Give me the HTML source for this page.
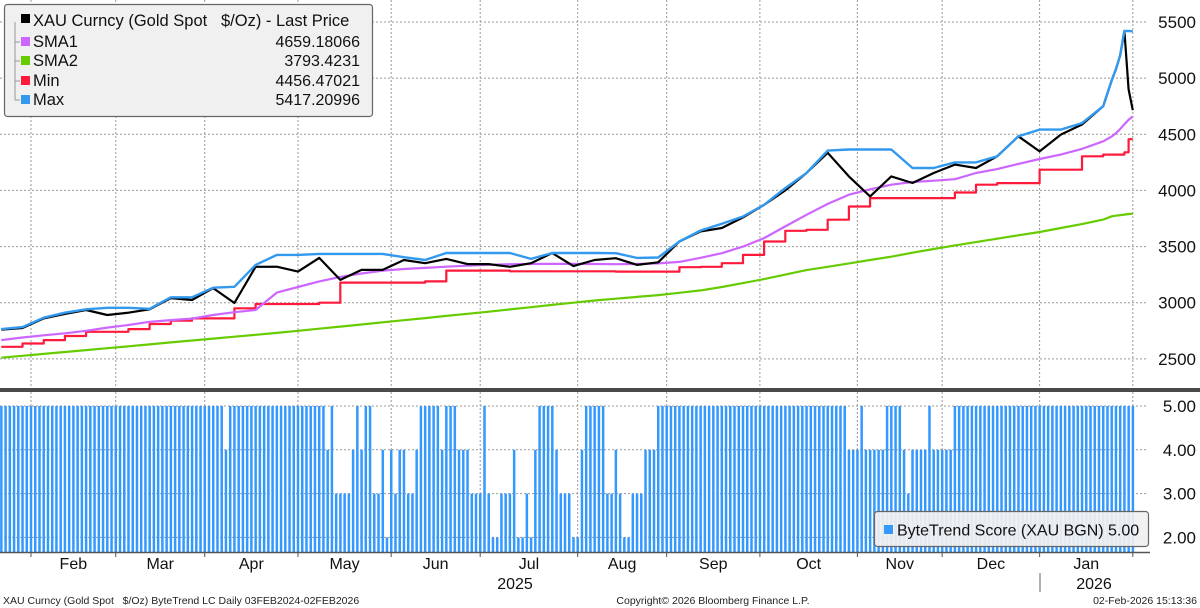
<!DOCTYPE html>
<html><head><meta charset="utf-8">
<style>
body{margin:0;background:#fff;font-family:"Liberation Sans",Tahoma,sans-serif;}
svg{display:block}
text{font-family:"Liberation Sans",sans-serif;}
</style></head>
<body>
<svg id="chart" width="1200" height="608" viewBox="0 0 1200 608">
  <g id="grid"></g>
  <g id="bars"></g>
  <g id="lines"></g>
  <rect x="0" y="388" width="1200" height="4" fill="#4a4a4a"/>
  <line x1="0" y1="552.5" x2="1150" y2="552.5" stroke="#555" stroke-width="1.5"/>
  <g id="axes"></g>
  <g>
    <rect x="4.5" y="4.5" width="368" height="112" rx="3" fill="#f0f0f0" stroke="#666" stroke-width="1.2"/>
    <text x="33" y="26" font-size="16.5" fill="#111">XAU Curncy (Gold Spot&#160;&#160; $/Oz) - Last Price</text>
    <rect x="21" y="14" width="9" height="9" fill="#000"/>
    <rect x="21" y="37" width="9" height="9" fill="#cc66ff"/>
    <rect x="21" y="56" width="9" height="9" fill="#66cc00"/>
    <rect x="21" y="76" width="9" height="9" fill="#ff1a3c"/>
    <rect x="21" y="95" width="9" height="9" fill="#3399ee"/>
    <path d="M15 22 V100 M15 42 H20 M15 61 H20 M15 81 H20 M15 100 H20" stroke="#999" fill="none"/>
    <text x="33" y="47" font-size="16.5" fill="#111">SMA1</text>
    <text x="33" y="66" font-size="16.5" fill="#111">SMA2</text>
    <text x="33" y="86" font-size="16.5" fill="#111">Min</text>
    <text x="33" y="105" font-size="16.5" fill="#111">Max</text>
    <text x="360" y="47" font-size="16" fill="#111" text-anchor="end">4659.18066</text>
    <text x="360" y="66" font-size="16" fill="#111" text-anchor="end">3793.4231</text>
    <text x="360" y="86" font-size="16" fill="#111" text-anchor="end">4456.47021</text>
    <text x="360" y="105" font-size="16" fill="#111" text-anchor="end">5417.20996</text>
  </g>
  <g>
    <rect x="874.5" y="511.5" width="274" height="35" rx="3" fill="#f0f0f0" fill-opacity="0.92" stroke="#666" stroke-width="1.2"/>
    <rect x="884" y="525" width="9" height="9" fill="#3399ff"/>
    <text x="897" y="535.5" font-size="16" fill="#111">ByteTrend Score (XAU BGN) 5.00</text>
  </g>
  <g>
    <text x="3" y="604" font-size="10.5" fill="#222">XAU Curncy (Gold Spot&#160;&#160; $/Oz) ByteTrend LC Daily 03FEB2024-02FEB2026</text>
    <text x="713" y="604" font-size="10.5" fill="#222" text-anchor="middle">Copyright© 2026 Bloomberg Finance L.P.</text>
    <text x="1197" y="604" font-size="10.5" fill="#222" text-anchor="end">02-Feb-2026 15:13:36</text>
  </g>
</svg>
<script>
// ---- data ----
const dates = ["2025-01-23","2025-01-30","2025-02-06","2025-02-13","2025-02-20","2025-02-27","2025-03-06","2025-03-13","2025-03-20","2025-03-27",
"2025-04-03","2025-04-10","2025-04-17","2025-04-24","2025-05-01","2025-05-08","2025-05-15","2025-05-22","2025-05-29","2025-06-05",
"2025-06-12","2025-06-19","2025-06-26","2025-07-03","2025-07-10","2025-07-17","2025-07-24","2025-07-31","2025-08-07","2025-08-14",
"2025-08-21","2025-08-28","2025-09-04","2025-09-11","2025-09-18","2025-09-25","2025-10-02","2025-10-09","2025-10-16","2025-10-23",
"2025-10-30","2025-11-06","2025-11-13","2025-11-20","2025-11-27","2025-12-04","2025-12-11","2025-12-18","2025-12-25","2026-01-01",
"2026-01-08","2026-01-15","2026-01-22","2026-01-26","2026-01-27","2026-01-28","2026-01-29","2026-01-30","2026-02-02"];
const lastPrice = [2760,2775,2860,2900,2935,2890,2911,2941,3040,3024,3130,2997,3320,3321,3277,3399,3203,3292,3292,3380,
3352,3390,3344,3344,3320,3352,3443,3326,3380,3396,3337,3360,3545,3635,3665,3760,3872,4000,4155,4335,
4125,3947,4125,4066,4155,4230,4200,4304,4482,4348,4497,4587,4750,4980,5080,5200,5420,4900,4715];
const maxSeries = [2765,2783,2866,2911,2941,2955,2955,2946,3048,3048,3134,3142,3337,3426,3426,3435,3435,3435,3435,3405,
3380,3443,3443,3443,3443,3390,3443,3443,3443,3441,3399,3403,3545,3643,3703,3768,3872,4021,4155,4355,
4365,4365,4365,4200,4200,4250,4250,4304,4482,4542,4542,4600,4750,4980,5080,5200,5420,5420,5417];
const sma1 = [2667,2690,2710,2727,2750,2778,2801,2830,2845,2858,2890,2915,2935,3090,3140,3190,3230,3260,3285,3300,
3310,3321,3330,3338,3343,3345,3346,3346,3345,3343,3345,3350,3363,3400,3441,3500,3575,3680,3783,3880,
3962,4010,4051,4075,4087,4100,4155,4190,4236,4280,4319,4370,4438,4480,4510,4545,4590,4630,4659];
const sma2 = [2510,2527,2544,2561,2578,2595,2612,2629,2646,2663,2680,2697,2714,2731,2750,2768,2787,2806,2825,2844,
2863,2882,2901,2920,2940,2960,2980,3000,3020,3036,3052,3068,3088,3110,3140,3175,3210,3250,3290,3320,
3350,3380,3410,3445,3478,3510,3540,3570,3600,3630,3665,3700,3740,3770,3775,3780,3785,3790,3793];
const minSeries = [2607,2637,2667,2703,2741,2741,2765,2810,2840,2860,2860,2950,2988,2988,2988,3000,3179,3179,3179,3179,
3190,3286,3286,3286,3280,3280,3280,3280,3280,3277,3277,3277,3316,3320,3352,3426,3545,3640,3649,3739,
3857,3932,3932,3932,3932,3982,4051,4065,4065,4185,4185,4304,4319,4319,4319,4319,4340,4456,4456];
const scores = [5,5,5,5,5,5,5,5,5,5,5,5,5,5,5,5,5,5,5,5,5,5,5,5,5,5,5,5,5,5,5,5,5,5,5,5,5,5,5,5,5,5,5,5,5,5,5,5,5,5,5,5,5,
4,
5,5,5,5,5,5,5,5,5,5,5,5,5,5,5,5,5,5,5,5,5,5,5,
4,5,3,3,3,3,4,5,4,5,5,3,3,4,2,4,3,4,4,3,3,4,
5,5,5,5,5,4,5,5,5,4,4,4,3,3,3,5,3,2,2,3,3,3,4,2,2,3,2,4,5,5,5,5,4,3,3,3,2,2,4,5,5,5,5,5,3,3,4,3,2,2,3,3,3,4,4,4,
5,5,5,5,5,5,5,5,5,5,5,5,5,5,5,5,5,5,5,5,5,5,5,5,5,5,5,5,5,5,5,5,5,5,5,5,5,5,5,5,5,5,5,5,5,
4,4,4,5,4,4,4,4,4,5,5,5,5,4,3,4,4,4,4,5,4,4,4,4,4,
5,5,5,5,5,5,5,5,5,5,5,5,5,5,5,5,5,5,5,5,5,5,5,5,5,5,5,5,5,5,5,5,5,5,5,5,5,5,5,5,5,5,5];
const priceTicks = [2500,3000,3500,4000,4500,5000,5500];
const scoreTicks = [2,3,4,5];
const monthLabels = ["Feb","Mar","Apr","May","Jun","Jul","Aug","Sep","Oct","Nov","Dec","Jan"];
const monthStarts = ["2025-02-03","2025-03-03","2025-04-01","2025-05-01","2025-06-02","2025-07-01","2025-08-01","2025-09-01","2025-10-01","2025-11-03","2025-12-01","2026-01-01","2026-02-02"];

// ---- scales ----
const NS="http://www.w3.org/2000/svg";
const origin = new Date("2025-01-23T00:00:00Z");
function dayIndex(s){
  const d=new Date(s+"T00:00:00Z");let n=0;const c=new Date(origin);
  while(c<d){c.setUTCDate(c.getUTCDate()+1);const w=c.getUTCDay();if(w!==0&&w!==6)n++;}
  return n;
}
const X0=1.3, STEP=4.238;
const xOfIndex=i=>X0+i*STEP;
const xOfDate=s=>xOfIndex(dayIndex(s));
const yPrice=v=>302.7-(v-3000)*0.11227;
const yScore=s=>406-(s-5)*43.8;
function mk(tag,attrs,parent){const e=document.createElementNS(NS,tag);for(const k in attrs)e.setAttribute(k,attrs[k]);parent.appendChild(e);return e;}

const grid=document.getElementById('grid');
const axes=document.getElementById('axes');
priceTicks.forEach(v=>{
  const y=yPrice(v);
  const l=mk('line',{x1:0,x2:1148,y1:y,y2:y,stroke:'#999','stroke-dasharray':'2,2','stroke-width':1},grid);
  
  
  const t=mk('text',{x:1196,y:y+6,'font-size':17,'text-anchor':'end',fill:'#111'},axes);
  t.textContent=v;
  
  
});
scoreTicks.forEach(s=>{
  const y=yScore(s);
  const l=mk('line',{x1:0,x2:1148,y1:y,y2:y,stroke:'#999','stroke-dasharray':'2,2','stroke-width':1},grid);
  
  
  const t=mk('text',{x:1196,y:y+6,'font-size':17,'text-anchor':'end',fill:'#111'},axes);
  t.textContent=s.toFixed(2);
  
  
});
monthStarts.forEach((m,i)=>{
  const x=xOfDate(m);
  const l=mk('line',{x1:x,x2:x,y1:0,y2:552,stroke:'#999','stroke-dasharray':'2,2','stroke-width':1},grid);
  
  
  const tk=mk('line',{x1:x,x2:x,y1:552,y2:557,stroke:'#555'},axes);
  
  
  if(i<monthLabels.length){
    const xn=xOfDate(monthStarts[i+1]);
    const t=mk('text',{x:(x+xn)/2,y:569,'font-size':16,'text-anchor':'middle',fill:'#111'},axes);
    t.textContent=monthLabels[i];
    
    
  }
});
const y25=mk('text',{x:515,y:589,'font-size':16,'text-anchor':'middle',fill:'#111'},axes);
y25.textContent='2025';


const y26=mk('text',{x:1094,y:589,'font-size':16,'text-anchor':'middle',fill:'#111'},axes);
y26.textContent='2026';


const ysep=mk('line',{x1:1040,x2:1040,y1:573,y2:592,stroke:'#999','stroke-width':1.5},axes);



const bars=document.getElementById('bars');
scores.forEach((s,i)=>{
  const x=xOfIndex(i);const y=yScore(s);
  const r=mk('rect',{x:x-1.2,y:y,width:2.5,height:552-y,fill:'#3399ff'},bars);
  
  
});

const lines=document.getElementById('lines');
function drawLine(vals,color,name,w,step){
  let d='';
  vals.forEach((v,i)=>{
    const x=xOfDate(dates[i]).toFixed(1), y=yPrice(v).toFixed(1);
    if(i===0) d+='M'+x+' '+y;
    else if(step) d+=' H'+x+' V'+y;
    else d+=' L'+x+' '+y;
  });
  const p=mk('path',{d:d,stroke:color,'stroke-width':w,fill:'none','stroke-linejoin':'round'},lines);
  
  
}
drawLine(sma2,'#66cc00','sma2-line',2.2,false);
drawLine(minSeries,'#ff1a3c','min-line',2.2,true);
drawLine(sma1,'#cc66ff','sma1-line',2.2,false);
drawLine(lastPrice,'#000000','last-price-line',2.2,false);
drawLine(maxSeries,'#3399ee','max-line',2.4,false);
</script>
</body></html>
